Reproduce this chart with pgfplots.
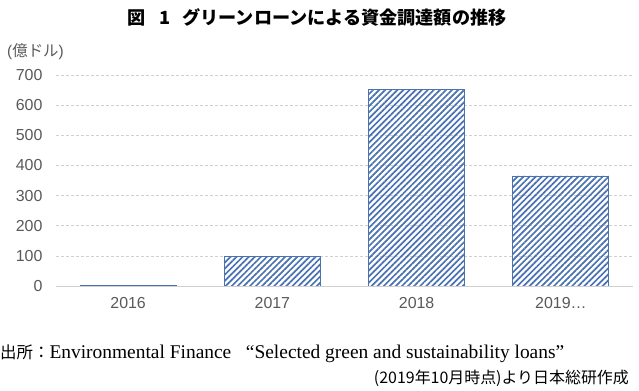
\documentclass[border=0pt]{standalone}
\usepackage{fontspec}
\setmainfont{Liberation Serif}
\newfontfamily\sans{Liberation Sans}
\newfontfamily\cjk{Noto Sans CJK JP}
\usepackage{pgfplots}
\pgfplotsset{compat=1.18}
\usetikzlibrary{patterns.meta}
\definecolor{barblue}{HTML}{4A72B0}
\definecolor{gridgray}{HTML}{D0D0D0}
\definecolor{tickgray}{HTML}{595959}
\begin{document}
\begin{tikzpicture}[x=1bp,y=1bp]
\useasboundingbox (0,0) rectangle (639,390);
\begin{axis}[
  at={(56bp,104bp)}, anchor=south west,
  scale only axis, width=577bp, height=211bp,
  ymin=0, ymax=700, xmin=-0.5, xmax=3.5,
  ytick={0,100,...,700},
  xtick={0,1,2,3},
  xticklabels={2016,2017,2018,2019…},
  axis line style={draw=none},
  tick style={draw=none},
  ymajorgrids, grid style={gridgray, dashed, dash pattern=on 3pt off 2pt, line width=0.6pt},
  /pgf/number format/assume math mode=true,
  ticklabel style={font=\sans\fontsize{16}{16}\selectfont, text=tickgray},
  yticklabel style={xshift=-10bp},
  xticklabel style={yshift=-4bp},
  ybar, bar width=0.665,
  clip=false,
]
\addplot[draw=barblue, line width=0.9pt, pattern={Lines[angle=45,distance=4.3bp,line width=1.7bp]}, pattern color=barblue]
  coordinates {(0,3) (1,97) (2,653) (3,365)};
\draw[gridgray, line width=0.8pt] (axis cs:-0.5,0) -- (axis cs:3.5,0);
\end{axis}
\node[anchor=west, inner sep=0, font=\cjk\bfseries\fontsize{18.2}{18.2}\selectfont] at (127,373) {図\hspace{14bp}1\hspace{12bp}グリーンローンによる資金調達額の推移};
\node[anchor=west, font=\sans\fontsize{15.5}{15.5}\selectfont, text=tickgray, inner sep=0] at (7,338) {(\cjk 億ドル\sans)};
\node[anchor=west, inner sep=0, font=\fontsize{19.5}{19.5}\selectfont] at (0,36) {{\cjk\fontsize{16.5}{16.5}\selectfont 出所：}Environmental Finance\ \ \ “Selected green and sustainability loans”};
\node[anchor=east, inner sep=0, font=\cjk\fontsize{16}{16}\selectfont] at (629,12) {(2019年10月時点)より日本総研作成};
\end{tikzpicture}
\end{document}
